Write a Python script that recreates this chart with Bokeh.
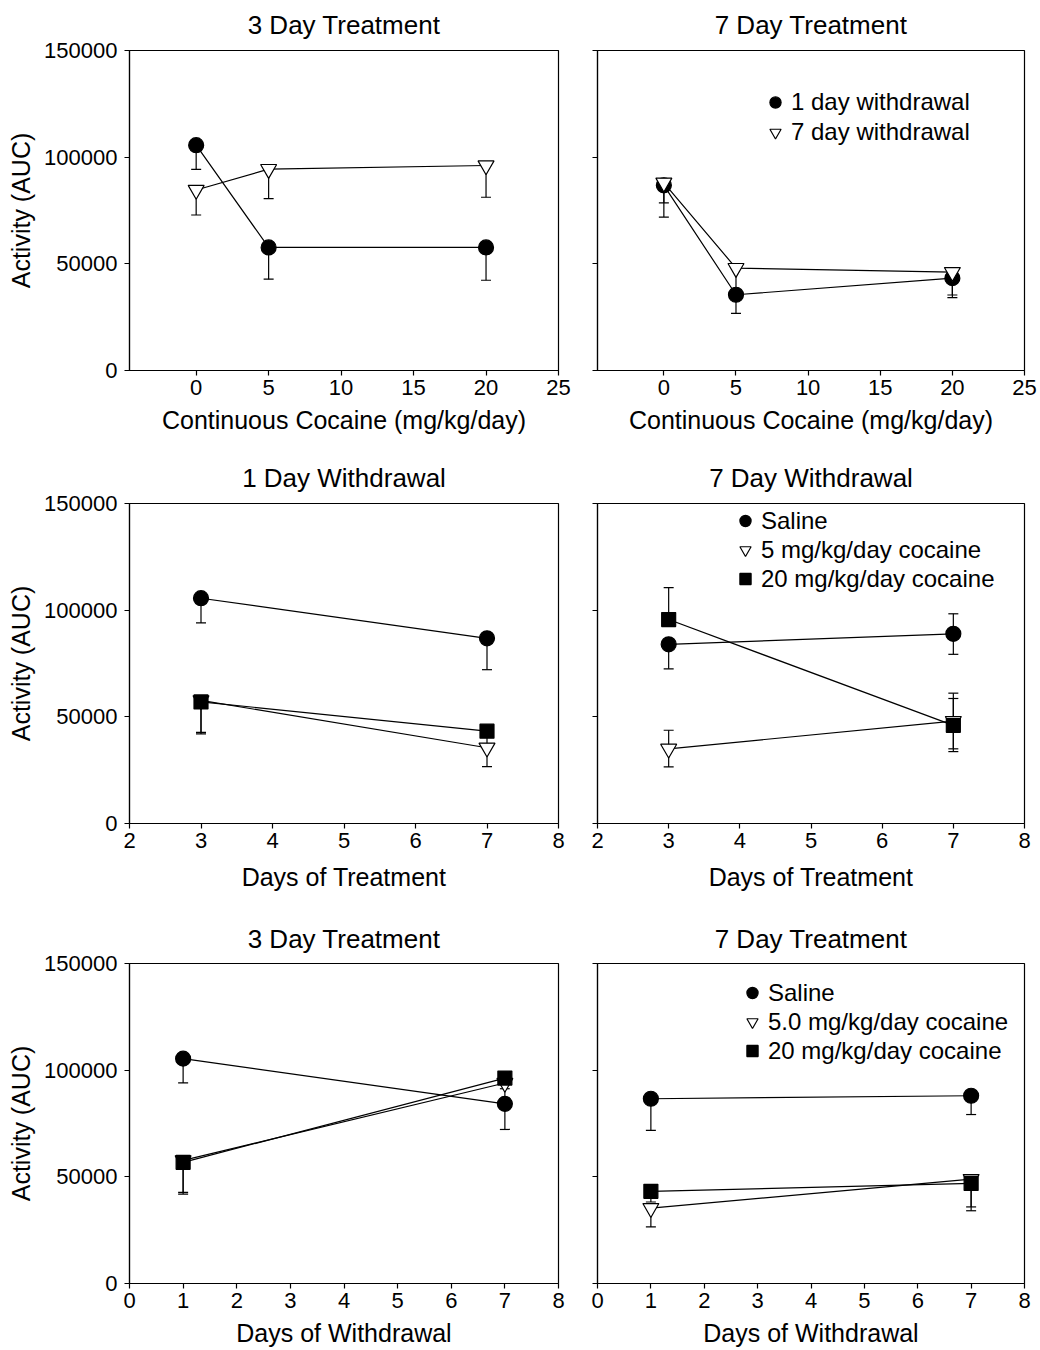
from bokeh.plotting import figure
from bokeh.layouts import column, row
from bokeh.models import (Range1d, FixedTicker, NumeralTickFormatter, Whisker, TeeHead,
                          ColumnDataSource, Legend, LegendItem)
from bokeh.core.properties import value
from bokeh.embed import file_html
from bokeh.resources import INLINE

FONT = "Liberation Sans"
Y_TICKS = [0, 50000, 100000, 150000]

# ---------------- data ----------------
# Panel 1: 3 Day Treatment, x = continuous cocaine dose
dose = [0, 5, 20]
p1_wd1 = [105600, 57700, 57700]
p1_wd1_dn = [11300, 14900, 15400]
p1_wd7 = [84600, 94400, 96100]
p1_wd7_dn = [11700, 13800, 14900]

# Panel 2: 7 Day Treatment
p2_wd1 = [86800, 35500, 43300]
p2_wd1_dn = [14900, 8700, 9100]
p2_wd7 = [88000, 48000, 46100]
p2_wd7_dn = [9400, 11000, 10700]

# Panel 3: 1 Day Withdrawal, x = days of treatment
treat_days = [3, 7]
p3_saline = [105600, 86800]
p3_saline_dn = [11600, 14700]
p3_c5 = [57700, 35500]
p3_c5_dn = [15000, 8800]
p3_c20 = [57000, 43300]
p3_c20_dn = [15000, 6000]

# Panel 4: 7 Day Withdrawal
p4_saline = [84000, 88900]
p4_saline_dn = [11500, 9600]
p4_saline_up = [0, 9400]
p4_c5 = [35000, 48000]
p4_c5_dn = [8500, 13000]
p4_c5_up = [8700, 13100]
p4_c20 = [95600, 46000]
p4_c20_dn = [0, 12300]
p4_c20_up = [15000, 12600]

# Panel 5: 3 Day Treatment, x = days of withdrawal
wd_days = [1, 7]
p5_saline = [105400, 84200]
p5_saline_dn = [11400, 12000]
p5_c5 = [57700, 94000]
p5_c5_dn = [15000, 9000]
p5_c20 = [56800, 96300]
p5_c20_dn = [14900, 5000]

# Panel 6: 7 Day Treatment
p6_saline = [86600, 88000]
p6_saline_dn = [14800, 8800]
p6_c5 = [35300, 48900]
p6_c5_dn = [8800, 13000]
p6_c20 = [43200, 46900]
p6_c20_dn = [5000, 12800]

dose_ticks = [0, 5, 10, 15, 20, 25]
treat_ticks = [2, 3, 4, 5, 6, 7, 8]
wd_ticks = [0, 1, 2, 3, 4, 5, 6, 7, 8]

CIRCLE = dict(marker="circle", fill_color="black", size=15)
TRI = dict(marker="inverted_triangle", fill_color="white", size=16)
SQUARE = dict(marker="square", fill_color="black", size=14)


def make_panel(title, title_standoff, xlabel, xlabel_standoff, x_range, x_ticks, left,
               height, mbt, mbb, series, legend_loc=None, legend_row=29):
    if left:
        w, mbl, mbr = 578, 129, 20
    else:
        w, mbl, mbr = 462, 19, 16
    p = figure(width=w, height=height, x_range=Range1d(*x_range), y_range=Range1d(0, 150000),
               output_backend="svg", toolbar_location=None,
               min_border_left=mbl, min_border_right=mbr, min_border_top=mbt,
               min_border_bottom=mbb)
    p.grid.visible = False
    p.outline_line_color = "black"
    p.outline_line_width = 1.2
    p.outline_line_alpha = 1.0

    p.title.text = title
    p.title.align = "center"
    p.title.vertical_align = "top"
    p.title.text_font = FONT
    p.title.text_font_size = "26px"
    p.title.text_font_style = "normal"
    p.title.text_color = "black"
    p.title.standoff = title_standoff

    for ax in (p.xaxis[0], p.yaxis[0]):
        ax.axis_line_color = "black"
        ax.axis_line_width = 1.2
        ax.major_tick_line_color = "black"
        ax.major_tick_line_width = 1.2
        ax.major_tick_out = 5
        ax.major_tick_in = 0
        ax.minor_tick_line_color = None
        ax.major_label_text_font = FONT
        ax.major_label_text_font_size = "22px"
        ax.major_label_text_color = "black"
        ax.axis_label_text_font = FONT
        ax.axis_label_text_font_size = "25px"
        ax.axis_label_text_font_style = "normal"
        ax.axis_label_text_color = "black"
    p.xaxis.ticker = FixedTicker(ticks=x_ticks)
    p.xaxis.major_label_standoff = 4
    p.xaxis.axis_label = xlabel
    p.xaxis.axis_label_standoff = xlabel_standoff
    p.yaxis.ticker = FixedTicker(ticks=Y_TICKS)
    p.yaxis.formatter = NumeralTickFormatter(format="0")
    p.yaxis.major_label_standoff = 7
    if left:
        p.yaxis.axis_label = "Activity (AUC)"
        p.yaxis.axis_label_standoff = 6
    else:
        p.yaxis.major_label_text_font_size = "0px"
        p.yaxis.major_label_text_color = None

    # error bars (under everything)
    for s in series:
        x, y, dn, up = s["x"], s["y"], s["dn"], s["up"]
        idx = [i for i in range(len(x)) if dn[i] > 0]
        if idx:
            src = ColumnDataSource(dict(base=[x[i] for i in idx],
                                        hi=[y[i] for i in idx],
                                        lo=[y[i] - dn[i] for i in idx]))
            p.add_layout(Whisker(source=src, base="base", upper="hi", lower="lo",
                                 dimension="height", line_color="black", line_width=1.2,
                                 upper_head=None,
                                 lower_head=TeeHead(size=10, line_color="black", line_width=1.2),
                                 level="underlay"))
        idx = [i for i in range(len(x)) if up[i] > 0]
        if idx:
            src = ColumnDataSource(dict(base=[x[i] for i in idx],
                                        lo=[y[i] for i in idx],
                                        hi=[y[i] + up[i] for i in idx]))
            p.add_layout(Whisker(source=src, base="base", upper="hi", lower="lo",
                                 dimension="height", line_color="black", line_width=1.2,
                                 lower_head=None,
                                 upper_head=TeeHead(size=10, line_color="black", line_width=1.2),
                                 level="underlay"))
    # connecting lines
    for s in series:
        p.line(s["x"], s["y"], line_color="black", line_width=1.2)
    # markers
    renderers = []
    for s in series:
        st = s["style"]
        r = p.scatter(s["x"], s["y"], marker=st["marker"], size=st["size"],
                      fill_color=st["fill_color"], line_color="black", line_width=1.2)
        renderers.append((s["label"], r))

    if legend_loc is not None:
        items = [LegendItem(label=value(lab), renderers=[r]) for lab, r in renderers]
        lg = Legend(items=items, location=legend_loc, orientation="vertical",
                    glyph_width=28, glyph_height=legend_row, label_height=legend_row,
                    label_standoff=2, spacing=0, padding=0, margin=0,
                    border_line_color=None, background_fill_alpha=0,
                    label_text_font=FONT, label_text_font_size="24px",
                    label_text_color="black")
        p.add_layout(lg)
    return p


def ser(x, y, dn, style, label, up=None):
    return dict(x=x, y=y, dn=dn, up=up if up is not None else [0] * len(x),
                style=style, label=label)


p1 = make_panel("3 Day Treatment", 17, "Continuous Cocaine (mg/kg/day)", 8,
                (-4.6, 25), dose_ticks, True, 451, 50, 81,
                [ser(dose, p1_wd1, p1_wd1_dn, CIRCLE, "1 day withdrawal"),
                 ser(dose, p1_wd7, p1_wd7_dn, TRI, "7 day withdrawal")])
p2 = make_panel("7 Day Treatment", 17, "Continuous Cocaine (mg/kg/day)", 8,
                (-4.6, 25), dose_ticks, False, 451, 50, 81,
                [ser(dose, p2_wd1, p2_wd1_dn, CIRCLE, "1 day withdrawal"),
                 ser(dose, p2_wd7, p2_wd7_dn, TRI, "7 day withdrawal")],
                legend_loc=(164, 223), legend_row=30)
p3 = make_panel("1 Day Withdrawal", 17, "Days of Treatment", 12,
                (2, 8), treat_ticks, True, 460, 52, 88,
                [ser(treat_days, p3_saline, p3_saline_dn, CIRCLE, "Saline"),
                 ser(treat_days, p3_c5, p3_c5_dn, TRI, "5 mg/kg/day cocaine"),
                 ser(treat_days, p3_c20, p3_c20_dn, SQUARE, "20 mg/kg/day cocaine")])
p4 = make_panel("7 Day Withdrawal", 17, "Days of Treatment", 12,
                (2, 8), treat_ticks, False, 460, 52, 88,
                [ser(treat_days, p4_saline, p4_saline_dn, CIRCLE, "Saline", p4_saline_up),
                 ser(treat_days, p4_c5, p4_c5_dn, TRI, "5 mg/kg/day cocaine", p4_c5_up),
                 ser(treat_days, p4_c20, p4_c20_dn, SQUARE, "20 mg/kg/day cocaine", p4_c20_up)],
                legend_loc=(134, 230), legend_row=29)
p5 = make_panel("3 Day Treatment", 16, "Days of Withdrawal", 8,
                (0, 8), wd_ticks, True, 439, 52, 67,
                [ser(wd_days, p5_saline, p5_saline_dn, CIRCLE, "Saline"),
                 ser(wd_days, p5_c5, p5_c5_dn, TRI, "5.0 mg/kg/day cocaine"),
                 ser(wd_days, p5_c20, p5_c20_dn, SQUARE, "20 mg/kg/day cocaine")])
p6 = make_panel("7 Day Treatment", 16, "Days of Withdrawal", 8,
                (0, 8), wd_ticks, False, 439, 52, 67,
                [ser(wd_days, p6_saline, p6_saline_dn, CIRCLE, "Saline"),
                 ser(wd_days, p6_c5, p6_c5_dn, TRI, "5.0 mg/kg/day cocaine"),
                 ser(wd_days, p6_c20, p6_c20_dn, SQUARE, "20 mg/kg/day cocaine")],
                legend_loc=(141, 218), legend_row=29)

layout = column(row(p1, p2), row(p3, p4), row(p5, p6))
open("out.html", "w").write(file_html(layout, INLINE))
